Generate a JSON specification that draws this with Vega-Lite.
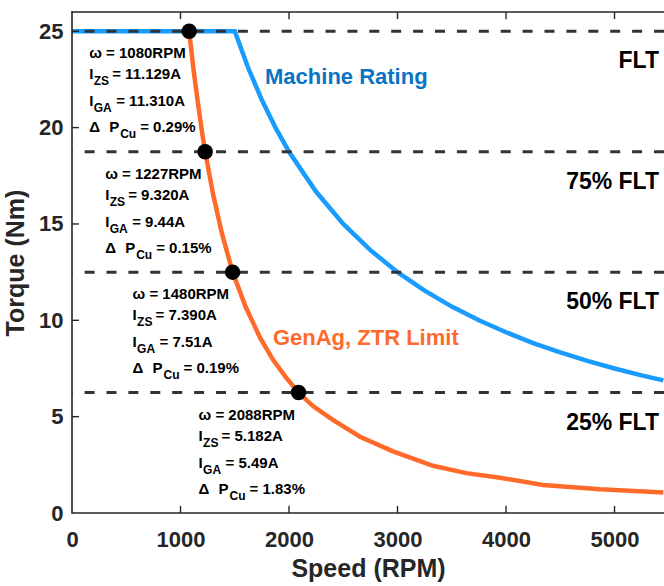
{
  "$schema": "https://vega.github.io/schema/vega-lite/v6.json",
  "width": 592,
  "height": 501,
  "autosize": {"type": "none"},
  "padding": {"left": 72, "top": 12, "right": 0, "bottom": 73},
  "background": "white",
  "config": {
    "view": {"stroke": null},
    "font": "Liberation Sans",
    "axis": {
      "grid": false,
      "domain": false,
      "ticks": false,
      "labelFont": "Liberation Sans",
      "labelFontWeight": "bold",
      "labelFontSize": 22,
      "labelColor": "#262626",
      "titleFont": "Liberation Sans",
      "titleFontWeight": "bold",
      "titleFontSize": 25,
      "titleColor": "#262626"
    }
  },
  "datasets": {
    "rating": [
      {"rpm": 0, "torque": 25},
      {"rpm": 1500, "torque": 25},
      {"rpm": 1625, "torque": 23.08},
      {"rpm": 1750, "torque": 21.43},
      {"rpm": 1875, "torque": 20.0},
      {"rpm": 2000, "torque": 18.75},
      {"rpm": 2250, "torque": 16.67},
      {"rpm": 2500, "torque": 15.0},
      {"rpm": 2750, "torque": 13.64},
      {"rpm": 3000, "torque": 12.5},
      {"rpm": 3250, "torque": 11.54},
      {"rpm": 3500, "torque": 10.71},
      {"rpm": 3750, "torque": 10.0},
      {"rpm": 4000, "torque": 9.38},
      {"rpm": 4250, "torque": 8.82},
      {"rpm": 4500, "torque": 8.33},
      {"rpm": 4750, "torque": 7.89},
      {"rpm": 5000, "torque": 7.5},
      {"rpm": 5250, "torque": 7.14},
      {"rpm": 5450, "torque": 6.88}
    ],
    "genag": [
      {"rpm": 1080, "torque": 25},
      {"rpm": 1120, "torque": 23.0},
      {"rpm": 1160, "torque": 21.3},
      {"rpm": 1200, "torque": 19.7},
      {"rpm": 1227, "torque": 18.75},
      {"rpm": 1300, "torque": 16.55},
      {"rpm": 1380, "torque": 14.55},
      {"rpm": 1480, "torque": 12.5},
      {"rpm": 1600, "torque": 10.7},
      {"rpm": 1733, "torque": 9.1},
      {"rpm": 1853, "torque": 7.95},
      {"rpm": 1970, "torque": 7.05},
      {"rpm": 2088, "torque": 6.25},
      {"rpm": 2221, "torque": 5.55},
      {"rpm": 2400, "torque": 4.85},
      {"rpm": 2654, "torque": 3.96},
      {"rpm": 2959, "torque": 3.2},
      {"rpm": 3327, "torque": 2.45},
      {"rpm": 3634, "torque": 2.07},
      {"rpm": 3945, "torque": 1.83},
      {"rpm": 4341, "torque": 1.45},
      {"rpm": 4866, "torque": 1.23},
      {"rpm": 5450, "torque": 1.07}
    ],
    "points": [
      {"rpm": 1080, "torque": 25, "izs": "11.129", "iga": "11.310", "dpcu": "0.29"},
      {"rpm": 1227, "torque": 18.75, "izs": "9.320", "iga": "9.44", "dpcu": "0.15"},
      {"rpm": 1480, "torque": 12.5, "izs": "7.390", "iga": "7.51", "dpcu": "0.19"},
      {"rpm": 2088, "torque": 6.25, "izs": "5.182", "iga": "5.49", "dpcu": "1.83"}
    ],
    "levels": [
      {"torque": 25, "label": "FLT"},
      {"torque": 18.75, "label": "75% FLT"},
      {"torque": 12.5, "label": "50% FLT"},
      {"torque": 6.25, "label": "25% FLT"}
    ],
    "frame": [
      {"edge": "left-bottom", "step": 1, "rpm": 0, "torque": 26},
      {"edge": "left-bottom", "step": 2, "rpm": 0, "torque": 0},
      {"edge": "left-bottom", "step": 3, "rpm": 5456, "torque": 0},
      {"edge": "top", "step": 1, "rpm": 0, "torque": 26},
      {"edge": "top", "step": 2, "rpm": 5456, "torque": 26}
    ],
    "ticks": [
      {"tick": "b1000", "step": 1, "rpm": 1000, "torque": 0},
      {"tick": "b1000", "step": 2, "rpm": 1000, "torque": 0.37},
      {"tick": "b2000", "step": 1, "rpm": 2000, "torque": 0},
      {"tick": "b2000", "step": 2, "rpm": 2000, "torque": 0.37},
      {"tick": "b3000", "step": 1, "rpm": 3000, "torque": 0},
      {"tick": "b3000", "step": 2, "rpm": 3000, "torque": 0.37},
      {"tick": "b4000", "step": 1, "rpm": 4000, "torque": 0},
      {"tick": "b4000", "step": 2, "rpm": 4000, "torque": 0.37},
      {"tick": "b5000", "step": 1, "rpm": 5000, "torque": 0},
      {"tick": "b5000", "step": 2, "rpm": 5000, "torque": 0.37},
      {"tick": "t1000", "step": 1, "rpm": 1000, "torque": 26},
      {"tick": "t1000", "step": 2, "rpm": 1000, "torque": 25.63},
      {"tick": "t2000", "step": 1, "rpm": 2000, "torque": 26},
      {"tick": "t2000", "step": 2, "rpm": 2000, "torque": 25.63},
      {"tick": "t3000", "step": 1, "rpm": 3000, "torque": 26},
      {"tick": "t3000", "step": 2, "rpm": 3000, "torque": 25.63},
      {"tick": "t4000", "step": 1, "rpm": 4000, "torque": 26},
      {"tick": "t4000", "step": 2, "rpm": 4000, "torque": 25.63},
      {"tick": "t5000", "step": 1, "rpm": 5000, "torque": 26},
      {"tick": "t5000", "step": 2, "rpm": 5000, "torque": 25.63},
      {"tick": "l5", "step": 1, "rpm": 0, "torque": 5},
      {"tick": "l5", "step": 2, "rpm": 64, "torque": 5},
      {"tick": "l10", "step": 1, "rpm": 0, "torque": 10},
      {"tick": "l10", "step": 2, "rpm": 64, "torque": 10},
      {"tick": "l15", "step": 1, "rpm": 0, "torque": 15},
      {"tick": "l15", "step": 2, "rpm": 64, "torque": 15},
      {"tick": "l20", "step": 1, "rpm": 0, "torque": 20},
      {"tick": "l20", "step": 2, "rpm": 64, "torque": 20},
      {"tick": "l25", "step": 1, "rpm": 0, "torque": 25},
      {"tick": "l25", "step": 2, "rpm": 64, "torque": 25}
    ]
  },
  "layer": [
    {
      "data": {"name": "rating"},
      "mark": {"type": "line", "color": "#1a9cff", "strokeWidth": 4.5, "strokeCap": "butt"},
      "encoding": {
        "x": {
          "field": "rpm", "type": "quantitative",
          "scale": {"domain": [0, 5456], "nice": false, "zero": false},
          "axis": {"orient": "bottom", "values": [0, 1000, 2000, 3000, 4000, 5000], "format": "d", "labelFlush": false, "title": "Speed (RPM)", "labelPadding": 16, "titlePadding": 6}
        },
        "y": {
          "field": "torque", "type": "quantitative",
          "scale": {"domain": [0, 26], "nice": false},
          "axis": {"orient": "left", "values": [0, 5, 10, 15, 20, 25], "title": "Torque (Nm)", "labelPadding": 9, "titlePadding": 10}
        }
      }
    },
    {
      "data": {"name": "genag"},
      "mark": {"type": "line", "color": "#ff6a2a", "strokeWidth": 4.5, "strokeCap": "butt"},
      "encoding": {
        "x": {"field": "rpm", "type": "quantitative"},
        "y": {"field": "torque", "type": "quantitative"}
      }
    },
    {
      "data": {"name": "frame"},
      "mark": {"type": "line", "color": "#262626", "strokeWidth": 1.6, "strokeCap": "square"},
      "encoding": {
        "x": {"field": "rpm", "type": "quantitative"},
        "y": {"field": "torque", "type": "quantitative"},
        "detail": {"field": "edge"},
        "order": {"field": "step"}
      }
    },
    {
      "data": {"name": "ticks"},
      "mark": {"type": "line", "color": "#262626", "strokeWidth": 1.4},
      "encoding": {
        "x": {"field": "rpm", "type": "quantitative"},
        "y": {"field": "torque", "type": "quantitative"},
        "detail": {"field": "tick"},
        "order": {"field": "step"}
      }
    },
    {
      "data": {"name": "levels"},
      "mark": {"type": "rule", "color": "#333333", "strokeWidth": 3, "strokeDash": [10, 11.9]},
      "encoding": {
        "y": {"field": "torque", "type": "quantitative"}
      }
    },
    {
      "data": {"name": "levels"},
      "mark": {"type": "text", "align": "right", "baseline": "alphabetic", "dy": 37, "fontSize": 23, "fontWeight": "bold", "color": "#000000"},
      "encoding": {
        "x": {"datum": 5410, "type": "quantitative"},
        "y": {"field": "torque", "type": "quantitative"},
        "text": {"field": "label"}
      }
    },
    {
      "data": {"name": "points"},
      "mark": {"type": "circle", "color": "#000000", "opacity": 1, "size": 240},
      "encoding": {
        "x": {"field": "rpm", "type": "quantitative"},
        "y": {"field": "torque", "type": "quantitative"}
      }
    },
    {
      "data": {"values": [{"name": "Machine Rating"}]},
      "mark": {"type": "text", "align": "left", "baseline": "alphabetic", "fontSize": 22, "fontWeight": "bold", "color": "#0a74c4"},
      "encoding": {
        "x": {"datum": 1779, "type": "quantitative"},
        "y": {"datum": 22.26, "type": "quantitative"},
        "text": {"field": "name"}
      }
    },
    {
      "data": {"values": [{"name": "GenAg, ZTR Limit"}]},
      "mark": {"type": "text", "align": "left", "baseline": "alphabetic", "fontSize": 22, "fontWeight": "bold", "color": "#ff6a2a"},
      "encoding": {
        "x": {"datum": 1852, "type": "quantitative"},
        "y": {"datum": 8.72, "type": "quantitative"},
        "text": {"field": "name"}
      }
    },
    {
      "data": {"name": "points"},
      "transform": [{"calculate": "'ω = ' + datum.rpm + 'RPM'", "as": "line1"}],
      "mark": {"type": "text", "align": "left", "baseline": "alphabetic", "dx": -100, "dy": 27, "fontSize": 15, "fontWeight": "bold", "color": "#000000"},
      "encoding": {
        "x": {"field": "rpm", "type": "quantitative"},
        "y": {"field": "torque", "type": "quantitative"},
        "text": {"field": "line1"}
      }
    },
    {
      "data": {"name": "points"},
      "mark": {"type": "text", "align": "left", "baseline": "alphabetic", "dx": -100, "dy": 48, "fontSize": 15, "fontWeight": "bold", "color": "#000000", "text": "I"},
      "encoding": {
        "x": {"field": "rpm", "type": "quantitative"},
        "y": {"field": "torque", "type": "quantitative"}
      }
    },
    {
      "data": {"name": "points"},
      "mark": {"type": "text", "align": "left", "baseline": "alphabetic", "dx": -95.5, "dy": 54, "fontSize": 12, "fontWeight": "bold", "color": "#000000", "text": "ZS"},
      "encoding": {
        "x": {"field": "rpm", "type": "quantitative"},
        "y": {"field": "torque", "type": "quantitative"}
      }
    },
    {
      "data": {"name": "points"},
      "transform": [{"calculate": "'= ' + datum.izs + 'A'", "as": "line2"}],
      "mark": {"type": "text", "align": "left", "baseline": "alphabetic", "dx": -77, "dy": 48, "fontSize": 15, "fontWeight": "bold", "color": "#000000"},
      "encoding": {
        "x": {"field": "rpm", "type": "quantitative"},
        "y": {"field": "torque", "type": "quantitative"},
        "text": {"field": "line2"}
      }
    },
    {
      "data": {"name": "points"},
      "mark": {"type": "text", "align": "left", "baseline": "alphabetic", "dx": -100, "dy": 75, "fontSize": 15, "fontWeight": "bold", "color": "#000000", "text": "I"},
      "encoding": {
        "x": {"field": "rpm", "type": "quantitative"},
        "y": {"field": "torque", "type": "quantitative"}
      }
    },
    {
      "data": {"name": "points"},
      "mark": {"type": "text", "align": "left", "baseline": "alphabetic", "dx": -95.5, "dy": 81, "fontSize": 12, "fontWeight": "bold", "color": "#000000", "text": "GA"},
      "encoding": {
        "x": {"field": "rpm", "type": "quantitative"},
        "y": {"field": "torque", "type": "quantitative"}
      }
    },
    {
      "data": {"name": "points"},
      "transform": [{"calculate": "'= ' + datum.iga + 'A'", "as": "line3"}],
      "mark": {"type": "text", "align": "left", "baseline": "alphabetic", "dx": -73, "dy": 75, "fontSize": 15, "fontWeight": "bold", "color": "#000000"},
      "encoding": {
        "x": {"field": "rpm", "type": "quantitative"},
        "y": {"field": "torque", "type": "quantitative"},
        "text": {"field": "line3"}
      }
    },
    {
      "data": {"name": "points"},
      "mark": {"type": "text", "align": "left", "baseline": "alphabetic", "dx": -100, "dy": 101, "fontSize": 15, "fontWeight": "bold", "color": "#000000", "text": "Δ"},
      "encoding": {
        "x": {"field": "rpm", "type": "quantitative"},
        "y": {"field": "torque", "type": "quantitative"}
      }
    },
    {
      "data": {"name": "points"},
      "mark": {"type": "text", "align": "left", "baseline": "alphabetic", "dx": -80, "dy": 101, "fontSize": 15, "fontWeight": "bold", "color": "#000000", "text": "P"},
      "encoding": {
        "x": {"field": "rpm", "type": "quantitative"},
        "y": {"field": "torque", "type": "quantitative"}
      }
    },
    {
      "data": {"name": "points"},
      "mark": {"type": "text", "align": "left", "baseline": "alphabetic", "dx": -69, "dy": 107, "fontSize": 12, "fontWeight": "bold", "color": "#000000", "text": "Cu"},
      "encoding": {
        "x": {"field": "rpm", "type": "quantitative"},
        "y": {"field": "torque", "type": "quantitative"}
      }
    },
    {
      "data": {"name": "points"},
      "transform": [{"calculate": "'= ' + datum.dpcu + '%'", "as": "line4"}],
      "mark": {"type": "text", "align": "left", "baseline": "alphabetic", "dx": -49, "dy": 101, "fontSize": 15, "fontWeight": "bold", "color": "#000000"},
      "encoding": {
        "x": {"field": "rpm", "type": "quantitative"},
        "y": {"field": "torque", "type": "quantitative"},
        "text": {"field": "line4"}
      }
    }
  ]
}
